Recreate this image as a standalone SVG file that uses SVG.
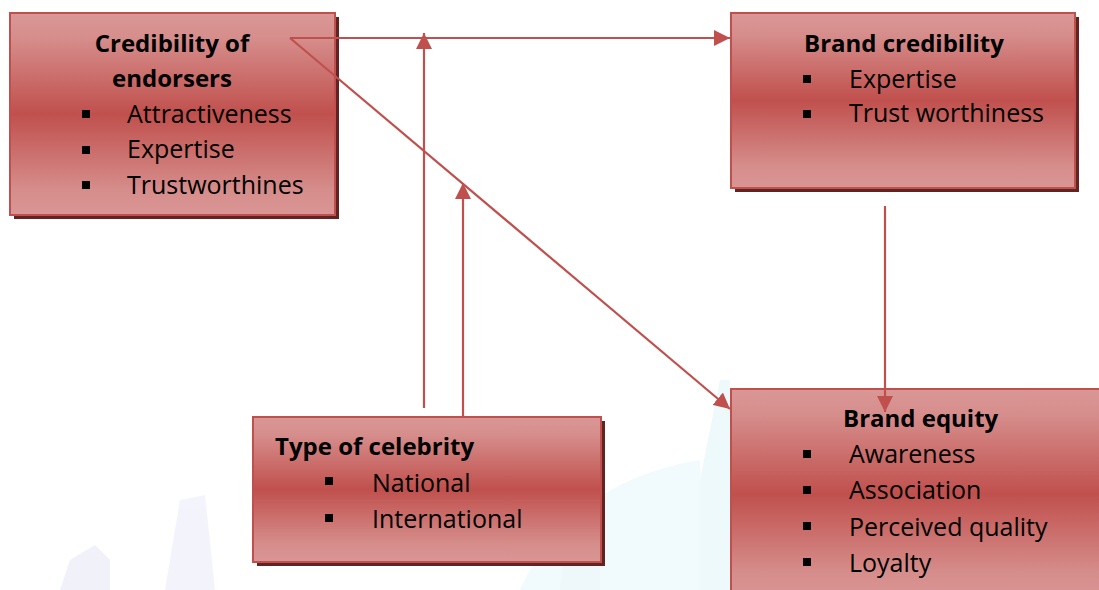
<svg xmlns="http://www.w3.org/2000/svg" width="1099" height="590" viewBox="0 0 1099 590">
<defs>
<linearGradient id="g" x1="0" y1="0" x2="0" y2="1">
<stop offset="0" stop-color="#da9796"/>
<stop offset="0.12" stop-color="#d68e8c"/>
<stop offset="0.5" stop-color="#c0504d"/>
<stop offset="0.88" stop-color="#d68e8c"/>
<stop offset="1" stop-color="#d99594"/>
</linearGradient>
<marker id="ah" viewBox="0 0 10 10" refX="10" refY="5" markerWidth="16" markerHeight="16" markerUnits="userSpaceOnUse" orient="auto">
<path d="M0,0 L10,5 L0,10 Z" fill="#c0504d"/>
</marker>
</defs>
<style>
.shadow{fill:#622423}
.box{fill:url(#g);stroke:#c0504d;stroke-width:2}
text{font-family:"Open Sans","Liberation Sans",sans-serif;fill:#000;font-size:25px}
.t{font-weight:bold;font-size:24px}
.b{fill:#000}
.c{stroke:#c0504d;stroke-width:2.2;fill:none}
</style>
<rect width="1099" height="590" fill="#fff"/>
<g id="watermark" opacity="0.1">
<path d="M60,590 L70,560 L95,545 L110,560 L110,590 Z" fill="#8080d0"/>
<path d="M165,590 L180,500 L205,495 L215,590 Z" fill="#9090e0"/>
<path d="M520,590 C560,500 640,470 700,460 L700,590 Z" fill="#80d0e8"/>
<path d="M560,590 L575,450 L600,440 L600,590 Z" fill="#60c0e0"/>
<path d="M700,480 L720,380 L730,380 L730,590 L700,590 Z" fill="#60c8e0"/>
</g>
<g id="n1">
<rect class="shadow" x="14" y="17" width="325" height="202"/>
<rect class="box" x="10" y="13" width="325" height="202"/>
<text class="t" x="172" y="52" text-anchor="middle">Credibility of</text>
<text class="t" x="172" y="87" text-anchor="middle">endorsers</text>
<rect class="b" x="82" y="110" width="8" height="8"/>
<text x="127" y="123">Attractiveness</text>
<rect class="b" x="82" y="146" width="8" height="8"/>
<text x="127" y="158">Expertise</text>
<rect class="b" x="82" y="181" width="8" height="8"/>
<text x="127" y="194">Trustworthines</text>
</g>
<g id="n2">
<rect class="shadow" x="735" y="17" width="344" height="175"/>
<rect class="box" x="731" y="13" width="344" height="175"/>
<text class="t" x="804" y="52">Brand credibility</text>
<rect class="b" x="803" y="75" width="8" height="8"/>
<text x="849" y="88">Expertise</text>
<rect class="b" x="803" y="110" width="8" height="8"/>
<text x="849" y="122">Trust worthiness</text>
</g>
<g id="n3">
<rect class="shadow" x="257" y="421" width="348" height="145"/>
<rect class="box" x="253" y="417" width="348" height="145"/>
<text class="t" x="275" y="455">Type of celebrity</text>
<rect class="b" x="325" y="477" width="8" height="8"/>
<text x="372" y="492">National</text>
<rect class="b" x="325" y="514" width="8" height="8"/>
<text x="372" y="528">International</text>
</g>
<g id="n4">
<rect class="shadow" x="735" y="393" width="370" height="210"/>
<rect class="box" x="731" y="389" width="370" height="210"/>
<text class="t" x="843" y="427">Brand equity</text>
<rect class="b" x="803" y="450" width="8" height="8"/>
<text x="849" y="463">Awareness</text>
<rect class="b" x="803" y="486" width="8" height="8"/>
<text x="849" y="499">Association</text>
<rect class="b" x="803" y="522" width="8" height="8"/>
<text x="849" y="536">Perceived quality</text>
<rect class="b" x="803" y="558" width="8" height="8"/>
<text x="849" y="572">Loyalty</text>
</g>
<g id="connectors">
<path class="c" d="M290,38 L730,38" marker-end="url(#ah)"/>
<path class="c" d="M290,38 L730,409" marker-end="url(#ah)"/>
<path class="c" d="M424,408 L424,33" marker-end="url(#ah)"/>
<path class="c" d="M463,417 L463,183" marker-end="url(#ah)"/>
<path class="c" d="M885,206 L885,412" marker-end="url(#ah)"/>
</g>
</svg>
